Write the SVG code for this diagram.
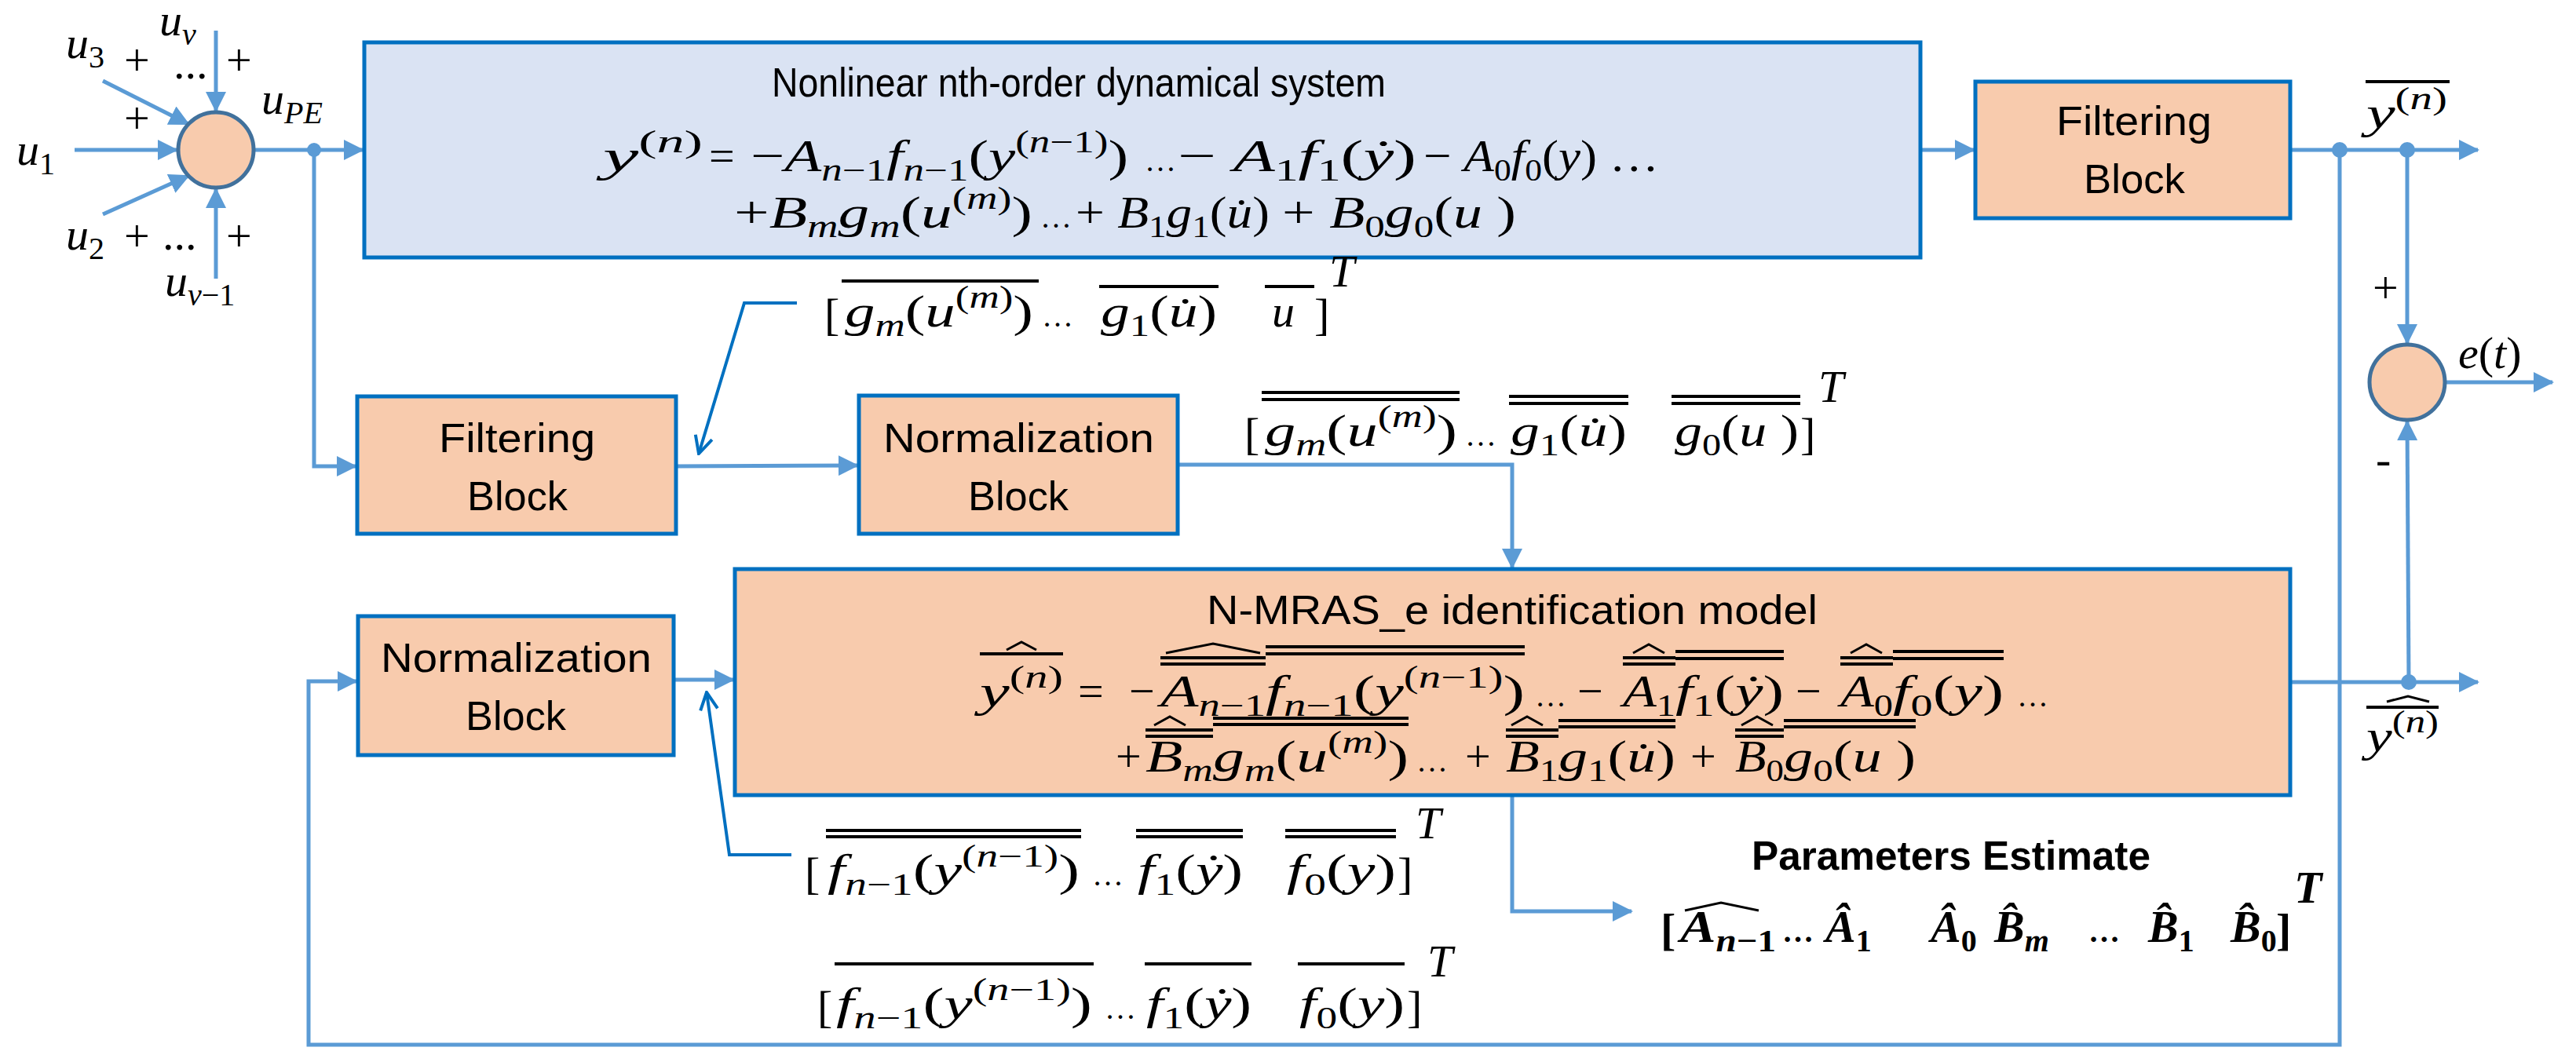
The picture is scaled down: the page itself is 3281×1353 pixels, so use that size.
<svg xmlns="http://www.w3.org/2000/svg" width="3281" height="1353" viewBox="0 0 3281 1353">
<style>
.box{fill:#f8cbad;stroke:#0070c0;stroke-width:5}
.sys{fill:#dae3f3;stroke:#0070c0;stroke-width:5}
.sum{fill:#f8cbad;stroke:#41719c;stroke-width:5}
.ln{fill:none;stroke:#5b9bd5;stroke-width:5}
.thin{fill:none;stroke:#0070c0;stroke-width:4}
.lbl{font-family:"Liberation Sans",sans-serif;font-size:52px;fill:#000}
.m{font-family:"Liberation Serif",serif;font-style:italic;font-size:58px;fill:#000}
.r{font-style:normal}
.el{font-style:normal;font-size:40px}
.sb{baseline-shift:-0.3em;font-size:40px}
.sp{baseline-shift:0.6em;font-size:40px}
.b{font-weight:bold}
.bar{stroke:#000;stroke-width:4}
.hat{fill:none;stroke:#000;stroke-width:3}
.dot{fill:#5b9bd5}
</style>
<defs>
<marker id="arb" markerWidth="26" markerHeight="26" refX="24" refY="13" orient="auto" markerUnits="userSpaceOnUse"><path d="M0,0 L26,13 L0,26 z" fill="#5b9bd5"/></marker>
<marker id="art" markerWidth="26" markerHeight="26" refX="24" refY="13" orient="auto" markerUnits="userSpaceOnUse"><path d="M2,2 L24,13 L2,24" fill="none" stroke="#0070c0" stroke-width="4"/></marker>
</defs>
<g id="connectors">
<line class="ln" x1="275" y1="39" x2="275" y2="141" marker-end="url(#arb)"/>
<line class="ln" x1="131" y1="103" x2="240" y2="158" marker-end="url(#arb)"/>
<line class="ln" x1="95" y1="191" x2="225" y2="191" marker-end="url(#arb)"/>
<line class="ln" x1="131" y1="273" x2="240" y2="224" marker-end="url(#arb)"/>
<line class="ln" x1="275" y1="355" x2="275" y2="241" marker-end="url(#arb)"/>
<line class="ln" x1="323" y1="191" x2="462" y2="191" marker-end="url(#arb)"/>
<polyline class="ln" points="400,191 400,594 453,594" marker-end="url(#arb)"/>
<line class="ln" x1="2446" y1="191" x2="2514" y2="191" marker-end="url(#arb)"/>
<line class="ln" x1="2917" y1="191" x2="3156" y2="191" marker-end="url(#arb)"/>
<line class="ln" x1="3066" y1="191" x2="3066" y2="437" marker-end="url(#arb)"/>
<line class="ln" x1="3114" y1="487" x2="3251" y2="487" marker-end="url(#arb)"/>
<line class="ln" x1="2917" y1="869" x2="3156" y2="869" marker-end="url(#arb)"/>
<line class="ln" x1="3068" y1="869" x2="3066" y2="537" marker-end="url(#arb)"/>
<polyline class="ln" points="2980,191 2980,1331 393,1331 393,868 454,868" marker-end="url(#arb)"/>
<line class="ln" x1="861" y1="594" x2="1092" y2="593" marker-end="url(#arb)"/>
<polyline class="ln" points="1500,592 1926,592 1926,723" marker-end="url(#arb)"/>
<line class="ln" x1="858" y1="866" x2="934" y2="866" marker-end="url(#arb)"/>
<polyline class="ln" points="1926,1013 1926,1161 2078,1161" marker-end="url(#arb)"/>
<polyline class="thin" points="1015,386 948,386 890,578" marker-end="url(#art)"/>
<polyline class="thin" points="1008,1089 929,1089 900,882" marker-end="url(#art)"/>
<circle class="dot" cx="400" cy="191" r="9"/>
<circle class="dot" cx="2980" cy="191" r="10"/>
<circle class="dot" cx="3066" cy="191" r="10"/>
<circle class="dot" cx="3068" cy="869" r="10"/>
</g>
<g id="sum1">
<ellipse class="sum" cx="275" cy="191" rx="48" ry="48"/>
<text class="m" x="203" y="45">u<tspan class="sb">v</tspan></text>
<text class="m" x="84" y="74">u<tspan class="sb r">3</tspan></text>
<text class="m r" x="158" y="96">+</text>
<text class="m r" x="221" y="100">...</text>
<text class="m r" x="288" y="96">+</text>
<text class="m r" x="158" y="170">+</text>
<text class="m" x="21" y="210">u<tspan class="sb r">1</tspan></text>
<text class="m" x="84" y="318">u<tspan class="sb r">2</tspan></text>
<text class="m r" x="158" y="320">+</text>
<text class="m r" x="207" y="318">...</text>
<text class="m r" x="288" y="320">+</text>
<text class="m" x="210" y="377">u<tspan class="sb">v</tspan><tspan class="sb r">−1</tspan></text>
<text class="m" x="333" y="145">u<tspan class="sb">PE</tspan></text>
</g>
<g id="system">
<rect class="sys" x="464" y="54" width="1982" height="274"/>
<text class="lbl" x="983" y="123" textLength="782" lengthAdjust="spacingAndGlyphs">Nonlinear nth-order dynamical system</text>
<text class="m" x="768" y="218" textLength="127" lengthAdjust="spacingAndGlyphs">y<tspan class="sp r">(<tspan font-style="italic">n</tspan>)</tspan></text>
<text class="m r" x="903" y="218">=</text>
<text class="m" x="956" y="218" textLength="481" lengthAdjust="spacingAndGlyphs"><tspan class="r">−</tspan>A<tspan class="sb">n<tspan class="r">−1</tspan></tspan>f<tspan class="sb">n<tspan class="r">−1</tspan></tspan><tspan class="r">(</tspan>y<tspan class="sp r">(<tspan font-style="italic">n</tspan>−1)</tspan><tspan class="r">)</tspan></text>
<text class="m el" x="1458" y="218">…</text>
<text class="m" x="1500" y="218" textLength="304" lengthAdjust="spacingAndGlyphs"><tspan class="r">− </tspan>A<tspan class="sb r">1</tspan>f<tspan class="sb r">1</tspan><tspan class="r">(</tspan>ẏ<tspan class="r">)</tspan></text>
<text class="m" x="1813" y="218" textLength="300" lengthAdjust="spacingAndGlyphs"><tspan class="r">− </tspan>A<tspan class="sb r">0</tspan>f<tspan class="sb r">0</tspan><tspan class="r">(</tspan>y<tspan class="r">) …</tspan></text>
<text class="m" x="935" y="290" textLength="380" lengthAdjust="spacingAndGlyphs"><tspan class="r">+</tspan>B<tspan class="sb">m</tspan>g<tspan class="sb">m</tspan><tspan class="r">(</tspan>u<tspan class="sp r">(<tspan font-style="italic">m</tspan>)</tspan><tspan class="r">)</tspan></text>
<text class="m el" x="1325" y="290">…</text>
<text class="m" x="1370" y="290" textLength="247" lengthAdjust="spacingAndGlyphs"><tspan class="r">+ </tspan>B<tspan class="sb r">1</tspan>g<tspan class="sb r">1</tspan><tspan class="r">(</tspan>u̇<tspan class="r">)</tspan></text>
<text class="m" x="1633" y="290" textLength="298" lengthAdjust="spacingAndGlyphs"><tspan class="r">+ </tspan>B<tspan class="sb r">0</tspan>g<tspan class="sb r">0</tspan><tspan class="r">(</tspan>u<tspan class="r"> )</tspan></text>
</g>
<g id="filter1">
<rect class="box" x="2516" y="104" width="401" height="174"/>
<text class="lbl" x="2619" y="172" textLength="198" lengthAdjust="spacingAndGlyphs">Filtering</text>
<text class="lbl" x="2654" y="246" textLength="129" lengthAdjust="spacingAndGlyphs">Block</text>
</g>
<g id="sum2">
<ellipse class="sum" cx="3066" cy="487" rx="48" ry="48"/>
<text class="m r" x="3022" y="386">+</text>
<text class="m r" x="3026" y="604">-</text>
<text class="m" x="3131" y="469">e<tspan class="r">(</tspan>t<tspan class="r">)</tspan></text>
</g>
<g id="filter2">
<rect class="box" x="455" y="505" width="406" height="175"/>
<text class="lbl" x="559" y="576" textLength="199" lengthAdjust="spacingAndGlyphs">Filtering</text>
<text class="lbl" x="595" y="650" textLength="128" lengthAdjust="spacingAndGlyphs">Block</text>
</g>
<g id="norm1">
<rect class="box" x="1094" y="504" width="406" height="176"/>
<text class="lbl" x="1125" y="576" textLength="345" lengthAdjust="spacingAndGlyphs">Normalization</text>
<text class="lbl" x="1233" y="650" textLength="128" lengthAdjust="spacingAndGlyphs">Block</text>
</g>
<g id="norm2">
<rect class="box" x="456" y="785" width="402" height="177"/>
<text class="lbl" x="485" y="856" textLength="345" lengthAdjust="spacingAndGlyphs">Normalization</text>
<text class="lbl" x="593" y="930" textLength="128" lengthAdjust="spacingAndGlyphs">Block</text>
</g>
<g id="model">
<rect class="box" x="936" y="725" width="1981" height="288"/>
<text class="lbl" x="1537" y="795" textLength="778" lengthAdjust="spacingAndGlyphs">N-MRAS_e identification model</text>
<text class="m" x="1248" y="900" textLength="106" lengthAdjust="spacingAndGlyphs">y<tspan class="sp r">(<tspan font-style="italic">n</tspan>)</tspan></text>
<line class="bar" x1="1248" y1="833" x2="1354" y2="833"/><polyline class="hat" points="1282,828 1301,818 1320,828"/>
<text class="m r" x="1373" y="900">=</text>
<text class="m r" x="1438" y="900">−</text>
<text class="m" x="1478" y="900" textLength="134" lengthAdjust="spacingAndGlyphs">A<tspan class="sb">n<tspan class="r">−1</tspan></tspan></text>
<line class="bar" x1="1478" y1="838" x2="1612" y2="838"/><line class="bar" x1="1478" y1="846" x2="1612" y2="846"/><polyline class="hat" points="1485,832 1545,820 1605,832"/>
<text class="m" x="1612" y="900" textLength="330" lengthAdjust="spacingAndGlyphs">f<tspan class="sb">n<tspan class="r">−1</tspan></tspan><tspan class="r">(</tspan>y<tspan class="sp r">(<tspan font-style="italic">n</tspan>−1)</tspan><tspan class="r">)</tspan></text>
<line class="bar" x1="1612" y1="824" x2="1942" y2="824"/><line class="bar" x1="1612" y1="833" x2="1942" y2="833"/>
<text class="m el" x="1955" y="900">…</text>
<text class="m r" x="2009" y="900">−</text>
<text class="m" x="2067" y="900" textLength="67" lengthAdjust="spacingAndGlyphs">A<tspan class="sb r">1</tspan></text>
<line class="bar" x1="2067" y1="838" x2="2134" y2="838"/><line class="bar" x1="2067" y1="846" x2="2134" y2="846"/><polyline class="hat" points="2080,832 2100,821 2120,832"/>
<text class="m" x="2134" y="900" textLength="138" lengthAdjust="spacingAndGlyphs">f<tspan class="sb r">1</tspan><tspan class="r">(</tspan>ẏ<tspan class="r">)</tspan></text>
<line class="bar" x1="2134" y1="830" x2="2272" y2="830"/><line class="bar" x1="2134" y1="839" x2="2272" y2="839"/>
<text class="m r" x="2287" y="900">−</text>
<text class="m" x="2344" y="900" textLength="67" lengthAdjust="spacingAndGlyphs">A<tspan class="sb r">0</tspan></text>
<line class="bar" x1="2344" y1="838" x2="2411" y2="838"/><line class="bar" x1="2344" y1="846" x2="2411" y2="846"/><polyline class="hat" points="2357,832 2377,821 2397,832"/>
<text class="m" x="2411" y="900" textLength="141" lengthAdjust="spacingAndGlyphs">f<tspan class="sb r">0</tspan><tspan class="r">(</tspan>y<tspan class="r">)</tspan></text>
<line class="bar" x1="2411" y1="830" x2="2552" y2="830"/><line class="bar" x1="2411" y1="839" x2="2552" y2="839"/>
<text class="m el" x="2569" y="900">…</text>
<text class="m r" x="1421" y="983">+</text>
<text class="m" x="1459" y="983" textLength="86" lengthAdjust="spacingAndGlyphs">B<tspan class="sb">m</tspan></text>
<line class="bar" x1="1459" y1="930" x2="1545" y2="930"/><line class="bar" x1="1459" y1="938" x2="1545" y2="938"/><polyline class="hat" points="1470,924 1490,913 1510,924"/>
<text class="m" x="1545" y="983" textLength="249" lengthAdjust="spacingAndGlyphs">g<tspan class="sb">m</tspan><tspan class="r">(</tspan>u<tspan class="sp r">(<tspan font-style="italic">m</tspan>)</tspan><tspan class="r">)</tspan></text>
<line class="bar" x1="1545" y1="915" x2="1794" y2="915"/><line class="bar" x1="1545" y1="923" x2="1794" y2="923"/>
<text class="m el" x="1804" y="983">…</text>
<text class="m r" x="1866" y="983">+</text>
<text class="m" x="1918" y="983" textLength="67" lengthAdjust="spacingAndGlyphs">B<tspan class="sb r">1</tspan></text>
<line class="bar" x1="1918" y1="930" x2="1985" y2="930"/><line class="bar" x1="1918" y1="938" x2="1985" y2="938"/><polyline class="hat" points="1925,924 1945,913 1965,924"/>
<text class="m" x="1985" y="983" textLength="149" lengthAdjust="spacingAndGlyphs">g<tspan class="sb r">1</tspan><tspan class="r">(</tspan>u̇<tspan class="r">)</tspan></text>
<line class="bar" x1="1985" y1="918" x2="2134" y2="918"/><line class="bar" x1="1985" y1="926" x2="2134" y2="926"/>
<text class="m r" x="2153" y="983">+</text>
<text class="m" x="2210" y="983" textLength="62" lengthAdjust="spacingAndGlyphs">B<tspan class="sb r">0</tspan></text>
<line class="bar" x1="2210" y1="930" x2="2272" y2="930"/><line class="bar" x1="2210" y1="938" x2="2272" y2="938"/><polyline class="hat" points="2218,924 2238,913 2258,924"/>
<text class="m" x="2272" y="983" textLength="168" lengthAdjust="spacingAndGlyphs">g<tspan class="sb r">0</tspan><tspan class="r">(</tspan>u<tspan class="r"> )</tspan></text>
<line class="bar" x1="2272" y1="918" x2="2440" y2="918"/><line class="bar" x1="2272" y1="926" x2="2440" y2="926"/>
</g>
<g id="labels">
<text class="m" x="3014" y="163" textLength="103" lengthAdjust="spacingAndGlyphs">y<tspan class="sp r">(<tspan font-style="italic">n</tspan>)</tspan></text>
<line class="bar" x1="3013" y1="104" x2="3120" y2="104"/>
<text class="m" x="3014" y="957" textLength="92" lengthAdjust="spacingAndGlyphs">y<tspan class="sp r">(<tspan font-style="italic">n</tspan>)</tspan></text>
<line class="bar" x1="3014" y1="901" x2="3106" y2="901"/><polyline class="hat" points="3040,894 3067,887 3094,894"/>

<text class="m r" x="1050" y="420" font-size="80">[</text>
<text class="m" x="1076" y="416" textLength="240" lengthAdjust="spacingAndGlyphs">g<tspan class="sb">m</tspan><tspan class="r">(</tspan>u<tspan class="sp r">(<tspan font-style="italic">m</tspan>)</tspan><tspan class="r">)</tspan></text>
<line class="bar" x1="1072" y1="358" x2="1323" y2="358"/>
<text class="m el" x="1327" y="416">…</text>
<text class="m" x="1402" y="416" textLength="148" lengthAdjust="spacingAndGlyphs">g<tspan class="sb r">1</tspan><tspan class="r">(</tspan>u̇<tspan class="r">)</tspan></text>
<line class="bar" x1="1400" y1="365" x2="1552" y2="365"/>
<text class="m" x="1620" y="416">u</text>
<line class="bar" x1="1611" y1="365" x2="1674" y2="365"/>
<text class="m r" x="1674" y="420" font-size="80">]</text>
<text class="m" x="1693" y="365" font-size="40">T</text>

<text class="m r" x="1585" y="572" font-size="80">[</text>
<text class="m" x="1611" y="568" textLength="245" lengthAdjust="spacingAndGlyphs">g<tspan class="sb">m</tspan><tspan class="r">(</tspan>u<tspan class="sp r">(<tspan font-style="italic">m</tspan>)</tspan><tspan class="r">)</tspan></text>
<line class="bar" x1="1607" y1="500" x2="1859" y2="500"/><line class="bar" x1="1607" y1="509" x2="1859" y2="509"/>
<text class="m el" x="1866" y="568">…</text>
<text class="m" x="1924" y="568" textLength="148" lengthAdjust="spacingAndGlyphs">g<tspan class="sb r">1</tspan><tspan class="r">(</tspan>u̇<tspan class="r">)</tspan></text>
<line class="bar" x1="1922" y1="505" x2="2074" y2="505"/><line class="bar" x1="1922" y1="514" x2="2074" y2="514"/>
<text class="m" x="2133" y="568" textLength="158" lengthAdjust="spacingAndGlyphs">g<tspan class="sb r">0</tspan><tspan class="r">(</tspan>u<tspan class="r"> )</tspan></text>
<line class="bar" x1="2129" y1="505" x2="2293" y2="505"/><line class="bar" x1="2129" y1="514" x2="2293" y2="514"/>
<text class="m r" x="2293" y="572" font-size="80">]</text>
<text class="m" x="2316" y="512" font-size="40">T</text>

<text class="m r" x="1025" y="1132" font-size="80">[</text>
<text class="m" x="1054" y="1128" textLength="321" lengthAdjust="spacingAndGlyphs">f<tspan class="sb">n<tspan class="r">−1</tspan></tspan><tspan class="r">(</tspan>y<tspan class="sp r">(<tspan font-style="italic">n</tspan>−1)</tspan><tspan class="r">)</tspan></text>
<line class="bar" x1="1052" y1="1058" x2="1377" y2="1058"/><line class="bar" x1="1052" y1="1066" x2="1377" y2="1066"/>
<text class="m el" x="1391" y="1128">…</text>
<text class="m" x="1449" y="1128" textLength="134" lengthAdjust="spacingAndGlyphs">f<tspan class="sb r">1</tspan><tspan class="r">(</tspan>ẏ<tspan class="r">)</tspan></text>
<line class="bar" x1="1447" y1="1058" x2="1583" y2="1058"/><line class="bar" x1="1447" y1="1066" x2="1583" y2="1066"/>
<text class="m" x="1639" y="1128" textLength="139" lengthAdjust="spacingAndGlyphs">f<tspan class="sb r">0</tspan><tspan class="r">(</tspan>y<tspan class="r">)</tspan></text>
<line class="bar" x1="1637" y1="1058" x2="1778" y2="1058"/><line class="bar" x1="1637" y1="1066" x2="1778" y2="1066"/>
<text class="m r" x="1780" y="1132" font-size="80">]</text>
<text class="m" x="1803" y="1068" font-size="40">T</text>

<text class="m r" x="1041" y="1302" font-size="80">[</text>
<text class="m" x="1065" y="1298" textLength="326" lengthAdjust="spacingAndGlyphs">f<tspan class="sb">n<tspan class="r">−1</tspan></tspan><tspan class="r">(</tspan>y<tspan class="sp r">(<tspan font-style="italic">n</tspan>−1)</tspan><tspan class="r">)</tspan></text>
<line class="bar" x1="1063" y1="1228" x2="1393" y2="1228"/>
<text class="m el" x="1407" y="1298">…</text>
<text class="m" x="1460" y="1298" textLength="134" lengthAdjust="spacingAndGlyphs">f<tspan class="sb r">1</tspan><tspan class="r">(</tspan>ẏ<tspan class="r">)</tspan></text>
<line class="bar" x1="1458" y1="1228" x2="1594" y2="1228"/>
<text class="m" x="1655" y="1298" textLength="134" lengthAdjust="spacingAndGlyphs">f<tspan class="sb r">0</tspan><tspan class="r">(</tspan>y<tspan class="r">)</tspan></text>
<line class="bar" x1="1653" y1="1228" x2="1789" y2="1228"/>
<text class="m r" x="1792" y="1302" font-size="80">]</text>
<text class="m" x="1818" y="1244" font-size="40">T</text>

<text class="lbl b" x="2231" y="1108" textLength="508" lengthAdjust="spacingAndGlyphs">Parameters Estimate</text>
<text class="m b r" x="2115" y="1204" font-size="80">[</text>
<text class="m b" x="2140" y="1200" textLength="122" lengthAdjust="spacingAndGlyphs">A<tspan class="sb">n<tspan class="r">−1</tspan></tspan></text>
<polyline class="hat" points="2146,1160 2192,1150 2240,1160"/>
<text class="m b el" x="2270" y="1200">…</text>
<text class="m b" x="2325" y="1200">Â<tspan class="sb r">1</tspan></text>
<text class="m b" x="2459" y="1200">Â<tspan class="sb r">0</tspan></text>
<text class="m b" x="2540" y="1200">B̂<tspan class="sb">m</tspan></text>
<text class="m b el" x="2660" y="1200">…</text>
<text class="m b" x="2736" y="1200">B̂<tspan class="sb r">1</tspan></text>
<text class="m b" x="2841" y="1200">B̂<tspan class="sb r">0</tspan></text>
<text class="m b r" x="2899" y="1204" font-size="80">]</text>
<text class="m b" x="2922" y="1150" font-size="40">T</text>
</g>
</svg>
